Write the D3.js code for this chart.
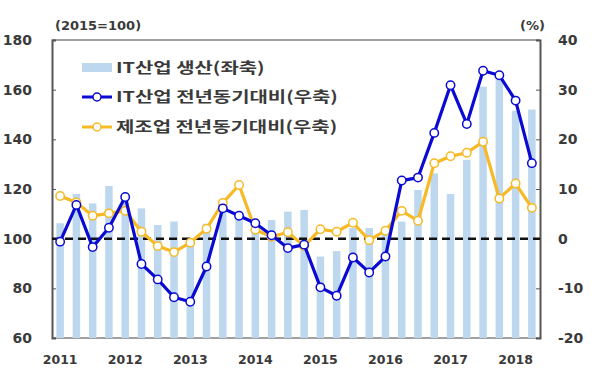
<!DOCTYPE html>
<html><head><meta charset="utf-8">
<script src="https://cdn.jsdelivr.net/npm/d3@7/dist/d3.min.js"></script>
<style>
html,body{margin:0;padding:0;background:#fff;}
text{font-family:"DejaVu Sans","Noto Sans CJK KR",sans-serif;}
.kr{font-family:"Noto Sans CJK KR","Noto Sans",sans-serif;}
</style></head>
<body><svg id="c" width="593" height="382"></svg>
<script>
const years = ["2011","2012","2013","2014","2015","2016","2017","2018"];
const quarters = [];
years.forEach(y => ["Q1","Q2","Q3","Q4"].forEach(q => quarters.push(y + q)));
const categories = quarters.slice(0, 30);
const itProduction = [106.2,118,114.2,121.2,116,112.2,105.5,106.9,98,106,113,111,106.8,107.5,110.9,111.6,92.8,95,104.3,104.3,103,106.9,119.6,126.3,118,131.7,161.2,167,151.5,152];
const itYoY = [-0.6,6.8,-1.7,2.2,8.4,-5.1,-8.2,-11.8,-12.7,-5.6,6.1,4.6,3.1,0.7,-1.9,-1.2,-9.8,-11.5,-3.8,-6.8,-3.6,11.7,12.3,21.3,30.9,23.1,33.8,32.9,27.8,15.2];
const mfgYoY = [8.6,7.3,4.6,5.1,5.6,1.4,-1.5,-2.7,-0.8,2.0,7.2,10.8,1.8,0.4,1.3,-1.5,1.9,1.4,3.2,-0.3,1.6,5.6,3.6,15.2,16.6,17.3,19.5,8.1,11.1,6.2];
const leftTicks = [60,80,100,120,140,160,180];
const rightTicks = [-20,-10,0,10,20,30,40];
const legendLabels = ["IT산업 생산(좌축)","IT산업 전년동기대비(우축)","제조업 전년동기대비(우축)"];

const L = 52, R = 540, T = 40, B = 338;
const svg = d3.select("#c");
const x = d3.scaleBand().domain(categories).range([L, R]);
const yL = d3.scaleLinear().domain([60, 180]).range([B, T]);
const yR = d3.scaleLinear().domain([-20, 40]).range([B, T]);
const cx = d => x(d) + x.bandwidth() / 2;

const txt = "#3a3a3a";
const axisCol = "#808080";

svg.append("line").attr("x1", L).attr("x2", R).attr("y1", T).attr("y2", T).attr("stroke", axisCol).attr("stroke-width", 1.5);
svg.append("line").attr("x1", L).attr("x2", R).attr("y1", B).attr("y2", B).attr("stroke", axisCol).attr("stroke-width", 1.5);

const bw = 7.5;
svg.append("g").selectAll("rect").data(itProduction).join("rect")
  .attr("x", (d, i) => cx(categories[i]) - bw / 2)
  .attr("y", d => yL(d))
  .attr("width", bw)
  .attr("height", d => yL(60) - yL(d))
  .attr("fill", "#bdd7ee");

const gl = svg.append("g").attr("transform", `translate(${L},0)`)
  .call(d3.axisLeft(yL).tickValues(leftTicks).tickFormat(d => String(d)).tickSize(-4).tickPadding(20));
gl.select(".domain").attr("stroke", "#555").attr("stroke-width", 2);
gl.selectAll(".tick line").attr("stroke", "#555");
gl.selectAll(".tick text").attr("font-size", 14).attr("font-weight", "bold").attr("fill", txt);

const gr = svg.append("g").attr("transform", `translate(${R},0)`)
  .call(d3.axisRight(yR).tickValues(rightTicks).tickFormat(d => String(d)).tickSize(-4).tickPadding(18));
gr.select(".domain").attr("stroke", "#555").attr("stroke-width", 2);
gr.selectAll(".tick line").attr("stroke", "#555");
gr.selectAll(".tick text").attr("font-size", 14).attr("font-weight", "bold").attr("fill", txt);

const gx = svg.append("g").attr("transform", `translate(0,${B})`)
  .call(d3.axisBottom(x).tickValues(categories.filter(c => c.endsWith("Q1"))).tickFormat(c => c.slice(0, 4)).tickSize(0).tickPadding(17));
gx.select(".domain").remove();
gx.selectAll(".tick text").attr("font-size", 12.5).attr("font-weight", "bold").attr("fill", txt);

svg.append("line").attr("x1", L).attr("x2", R).attr("y1", yR(0)).attr("y2", yR(0))
  .attr("stroke", "#111").attr("stroke-width", 2.5).attr("stroke-dasharray", "8,5");

const blue = "#0a0ad2", yellow = "#f7b924";
function drawSeries(data, col) {
  const line = d3.line().x((d, i) => cx(categories[i])).y(d => yR(d));
  svg.append("path").datum(data).attr("d", line).attr("fill", "none")
    .attr("stroke", col).attr("stroke-width", 3.2).attr("stroke-linejoin", "round");
  svg.append("g").selectAll("circle").data(data).join("circle")
    .attr("cx", (d, i) => cx(categories[i])).attr("cy", d => yR(d)).attr("r", 4.2)
    .attr("fill", "#fff").attr("stroke", col).attr("stroke-width", 1.5);
}
drawSeries(mfgYoY, yellow);
drawSeries(itYoY, blue);

svg.append("text").attr("x", 55).attr("y", 30).attr("font-size", 13).attr("font-weight", "bold").attr("fill", txt).text("(2015=100)");
svg.append("text").attr("x", 545).attr("y", 30).attr("text-anchor", "end").attr("font-size", 13).attr("font-weight", "bold").attr("fill", txt).text("(%)");

const lg = svg.append("g");
lg.append("rect").attr("x", 82).attr("y", 63).attr("width", 30).attr("height", 9).attr("fill", "#bdd7ee");
[[blue, 97], [yellow, 127]].forEach(([col, yy]) => {
  lg.append("line").attr("x1", 82).attr("x2", 112).attr("y1", yy).attr("y2", yy).attr("stroke", col).attr("stroke-width", 3);
  lg.append("circle").attr("cx", 97).attr("cy", yy).attr("r", 4).attr("fill", "#fff").attr("stroke", col).attr("stroke-width", 1.5);
});
[68, 97, 127].forEach((yy, i) => {
  lg.append("g").attr("transform", `translate(116,${yy}) scale(1.33,1)`)
    .append("text").attr("class", "kr").attr("x", 0).attr("y", 0).attr("dy", "0.36em")
    .attr("font-size", 15).attr("font-weight", "bold").attr("fill", txt).text(legendLabels[i]);
});
</script></body></html>
